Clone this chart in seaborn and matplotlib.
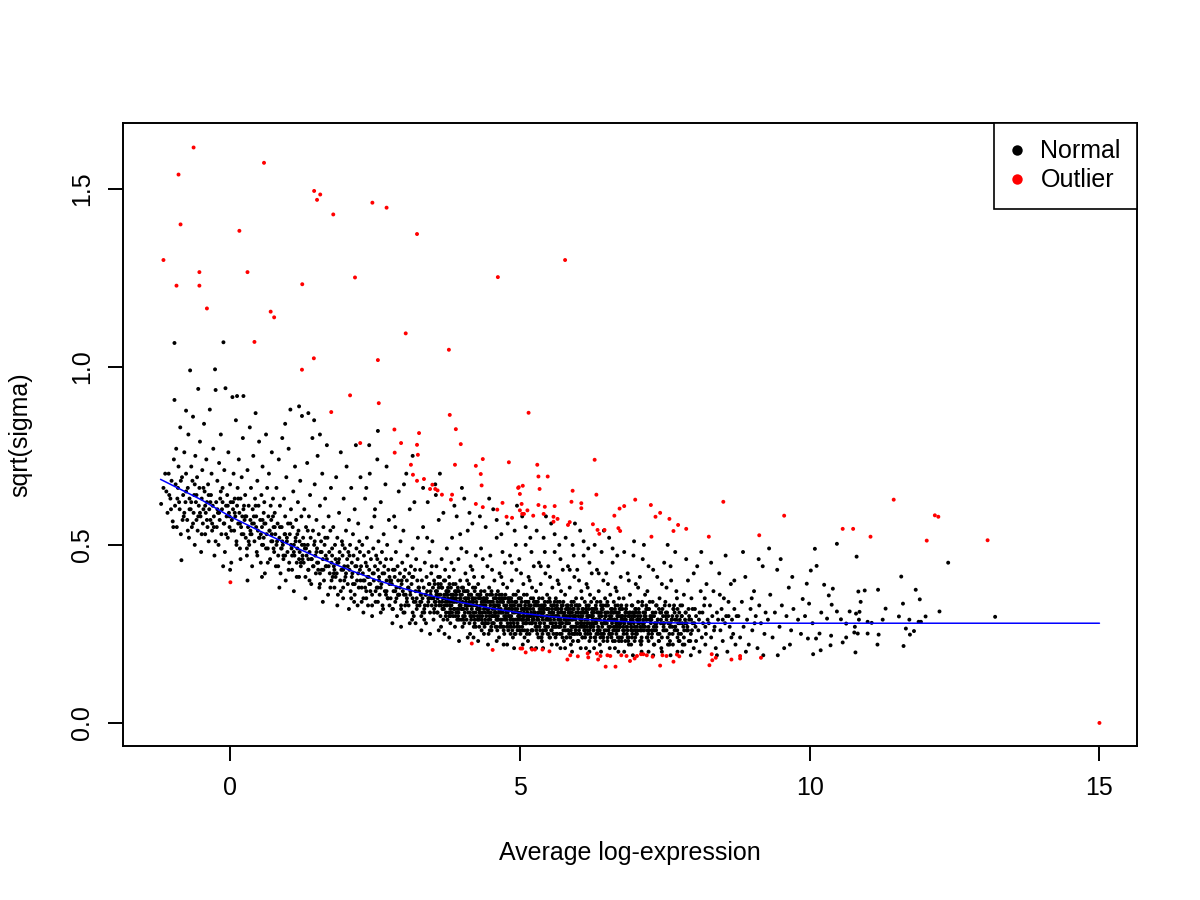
import matplotlib
matplotlib.use("Agg")
import matplotlib.pyplot as plt
from matplotlib.lines import Line2D
import pandas as pd
import seaborn as sns

# Trend line (fitted prior)
trend_x = [-1.2, -0.5, 0, 0.5, 1, 1.5, 2, 2.5, 3, 3.5, 4, 4.5, 5, 5.5, 6, 6.5, 7, 8, 9, 15]
trend_y = [0.684, 0.627, 0.580, 0.540, 0.502, 0.466, 0.433, 0.403, 0.377, 0.356, 0.338,
           0.322, 0.309, 0.299, 0.292, 0.287, 0.283, 0.280, 0.280, 0.280]

# Normal genes (estimated sample of the cloud), x = average log-expression, y = sqrt(sigma)
normal_low = [
    (-1.19, .615), (-1.15, .66), (-1.12, .70), (-1.08, .59), (-1.05, .64), (-1.03, .63), (-1.01, .68),
    (-0.99, .566), (-0.97, .74), (-0.96, .907), (-0.96, 1.067), (-0.95, .61), (-0.93, .77), (-0.92, .55),
    (-0.90, .66), (-0.89, .72), (-0.87, .60), (-0.86, .83), (-0.85, .53), (-0.84, .457), (-0.83, .69),
    (-0.81, .64), (-0.80, .58), (-0.79, .76), (-0.77, .62), (-0.76, .877), (-0.76, .70),
    (-0.74, .57), (-0.73, .66), (-0.72, .81), (-0.71, .52), (-0.70, .63), (-0.69, .99), (-0.68, .60),
    (-0.67, .72), (-0.66, .55), (-0.65, .68), (-0.64, .86), (-0.63, .59), (-0.62, .64), (-0.61, .50),
    (-0.60, .75), (-0.59, .62), (-0.58, .57), (-0.57, .69), (-0.56, .54), (-0.55, .938), (-0.54, .61),
    (-0.53, .66), (-0.52, .79), (-0.51, .58), (-0.50, .48), (-0.49, .63), (-0.48, .71), (-0.47, .56),
    (-0.46, .60), (-0.45, .84), (-0.44, .65), (-0.43, .53), (-0.42, .59), (-0.41, .74), (-0.40, .62),
    (-0.39, .55), (-0.38, .67), (-0.37, .51), (-0.36, .60), (-0.35, .88), (-0.34, .57), (-0.33, .64),
    (-0.32, .70), (-0.31, .54), (-0.30, .61), (-0.29, .77), (-0.28, .58), (-0.27, .47), (-0.26, .993),
    (-0.25, .935),
    (-0.24, .62), (-0.23, .55), (-0.22, .68), (-0.21, .59), (-0.20, .50), (-0.19, .73), (-0.18, .57),
    (-0.17, .63), (-0.16, .81), (-0.15, .53), (-0.14, .60), (-0.13, .66), (-0.115, 1.069), (-0.11, .56),
    (-0.10, .71), (-0.09, .48), (-0.08, .94), (-0.07, .61), (-0.06, .58), (-0.05, .64), (-0.04, .52),
    (-0.03, .76), (-0.02, .59), (-0.01, .55), (0.00, .67), (0.01, .62), (0.02, .45), (0.03, .57),
    (0.04, .915), (0.05, .60), (0.06, .70), (0.07, .54), (0.08, .63), (0.09, .58), (0.10, .85),
    (0.11, .51), (0.12, .918), (0.12, .61), (0.13, .66), (0.14, .56), (0.15, .74), (0.16, .59),
    (0.17, .49), (0.18, .63), (0.19, .55), (0.20, .69), (0.21, .58), (0.22, .80), (0.23, .918),
    (0.23, .53), (0.24, .61), (0.25, .57), (-0.12, .44), (0.00, .43), (0.18, .46),
    (0.26, .64), (0.27, .52), (0.28, .58), (0.29, .47), (0.30, .71), (0.31, .55), (0.32, .61),
    (0.33, .50), (0.34, .83), (0.35, .57), (0.36, .66), (0.37, .53), (0.38, .44), (0.39, .60),
    (0.40, .75), (0.41, .56), (0.42, .51), (0.43, .63), (0.44, .87), (0.45, .58), (0.46, .48),
    (0.47, .68), (0.48, .54), (0.49, .61), (0.50, .79), (0.51, .52), (0.52, .57), (0.53, .45),
    (0.54, .64), (0.55, .55), (0.56, .72), (0.57, .50), (0.58, .59), (0.59, .62), (0.60, .42),
    (0.61, .56), (0.62, .81), (0.63, .53), (0.64, .66), (0.65, .49), (0.66, .58), (0.67, .70),
    (0.68, .54), (0.69, .46), (0.70, .61), (0.71, .57), (0.72, .76), (0.73, .51), (0.74, .63),
    (0.75, .55), (0.30, .40), (0.55, .41),
    (0.76, .48), (0.77, .59), (0.78, .53), (0.79, .44), (0.80, .66), (0.81, .51), (0.82, .56),
    (0.83, .47), (0.84, .74), (0.85, .52), (0.86, .61), (0.87, .42), (0.88, .49), (0.89, .55),
    (0.90, .80), (0.91, .50), (0.92, .46), (0.93, .63), (0.94, .53), (0.95, .58), (0.96, .40),
    (0.97, .69), (0.98, .51), (0.99, .48), (1.00, .56), (1.01, .77), (1.02, .45), (1.03, .53),
    (1.04, .88), (1.05, .60), (1.06, .49), (1.07, .43), (1.08, .55), (1.09, .65), (1.10, .50),
    (1.11, .47), (1.12, .72), (1.13, .52), (1.14, .57), (1.15, .41), (1.16, .49), (1.17, .62),
    (1.18, .54), (1.19, .889), (1.19, .46), (1.20, .51), (1.21, .68), (1.22, .44), (1.23, .58),
    (1.24, .862), (1.24, .50), (1.25, .47), (0.85, .38), (1.10, .37), (0.95, .84),
]

normal_mid = [
    (1.26, .52), (1.27, .45), (1.28, .60), (1.29, .49), (1.30, .41), (1.31, .55), (1.32, .47),
    (1.33, .73), (1.34, .50), (1.35, .43), (1.36, .58), (1.37, .48), (1.38, .64), (1.39, .52),
    (1.40, .39), (1.41, .46), (1.42, .80), (1.43, .54), (1.44, .44), (1.45, .50), (1.46, .67),
    (1.47, .47), (1.48, .42), (1.49, .57), (1.50, .49), (1.51, .75), (1.52, .45), (1.53, .53),
    (1.54, .38), (1.55, .61), (1.56, .48), (1.57, .51), (1.58, .43), (1.59, .70), (1.60, .46),
    (1.61, .55), (1.62, .40), (1.63, .50), (1.64, .63), (1.65, .47), (1.66, .44), (1.67, .78),
    (1.68, .52), (1.69, .36), (1.70, .58), (1.71, .48), (1.72, .42), (1.73, .54), (1.74, .66),
    (1.75, .45), (1.30, .35), (1.60, .34), (1.45, .85), (1.35, .87), (1.55, .81),
    (1.76, .47), (1.77, .41), (1.78, .55), (1.79, .44), (1.80, .38), (1.81, .50), (1.82, .46),
    (1.83, .69), (1.84, .42), (1.85, .52), (1.86, .36), (1.87, .45), (1.88, .59), (1.89, .48),
    (1.90, .40), (1.91, .76), (1.92, .43), (1.93, .51), (1.94, .47), (1.95, .35), (1.96, .63),
    (1.97, .44), (1.98, .49), (1.99, .41), (2.00, .54), (2.01, .72), (2.02, .46), (2.03, .39),
    (2.04, .48), (2.05, .57), (2.06, .43), (2.07, .50), (2.08, .37), (2.09, .66), (2.10, .45),
    (2.11, .42), (2.12, .53), (2.13, .47), (2.14, .34), (2.15, .60), (2.16, .44), (2.17, .78),
    (2.18, .49), (2.19, .40), (2.20, .46), (2.21, .56), (2.22, .38), (2.23, .51), (2.24, .43),
    (2.25, .69), (1.85, .33), (2.05, .32), (2.20, .33),
    (2.26, .44), (2.27, .38), (2.28, .50), (2.29, .42), (2.30, .35), (2.31, .47), (2.32, .40),
    (2.33, .63), (2.34, .45), (2.35, .37), (2.36, .52), (2.37, .41), (2.38, .33), (2.39, .48),
    (2.40, .43), (2.41, .70), (2.42, .39), (2.43, .46), (2.44, .55), (2.45, .36), (2.46, .42),
    (2.47, .49), (2.48, .40), (2.49, .58), (2.50, .44), (2.51, .34), (2.52, .47), (2.53, .38),
    (2.54, .74), (2.55, .43), (2.56, .51), (2.57, .41), (2.58, .36), (2.59, .45), (2.60, .62),
    (2.61, .39), (2.62, .48), (2.63, .42), (2.64, .32), (2.65, .53), (2.66, .44), (2.67, .37),
    (2.68, .67), (2.69, .46), (2.70, .40), (2.71, .50), (2.72, .35), (2.73, .43), (2.74, .57),
    (2.75, .41), (2.30, .31), (2.45, .30), (2.60, .31), (2.35, .66), (2.50, .60), (2.70, .72),
    (2.55, .82), (2.40, .78),
    (2.76, .40), (2.77, .35), (2.78, .46), (2.79, .39), (2.80, .32), (2.81, .43), (2.82, .37),
    (2.83, .58), (2.84, .41), (2.85, .34), (2.86, .48), (2.87, .38), (2.88, .30), (2.89, .44),
    (2.90, .40), (2.91, .65), (2.92, .36), (2.93, .42), (2.94, .51), (2.95, .33), (2.96, .39),
    (2.97, .45), (2.98, .37), (2.99, .54), (3.00, .41), (3.01, .31), (3.02, .43), (3.03, .36),
    (3.04, .70), (3.05, .40), (3.06, .47), (3.07, .38), (3.08, .33), (3.09, .42), (3.10, .60),
    (3.11, .36), (3.12, .44), (3.13, .39), (3.14, .29), (3.15, .49), (3.16, .41), (3.17, .34),
    (3.18, .62), (3.19, .43), (3.20, .37), (3.21, .46), (3.22, .32), (3.23, .40), (3.24, .52),
    (3.25, .38), (2.80, .28), (2.95, .27), (3.10, .28), (3.20, .28), (2.85, .55), (3.00, .67),
    (3.15, .75), (2.90, .36), (3.05, .35), (3.22, .35),
    (3.26, .37), (3.27, .33), (3.28, .43), (3.29, .36), (3.30, .30), (3.31, .40), (3.32, .35),
    (3.33, .55), (3.34, .38), (3.35, .32), (3.36, .45), (3.37, .36), (3.38, .28), (3.39, .41),
    (3.40, .37), (3.41, .62), (3.42, .34), (3.43, .39), (3.44, .48), (3.45, .31), (3.46, .36),
    (3.47, .42), (3.48, .35), (3.49, .51), (3.50, .38), (3.51, .29), (3.52, .40), (3.53, .34),
    (3.54, .67), (3.55, .37), (3.56, .44), (3.57, .36), (3.58, .31), (3.59, .39), (3.60, .57),
    (3.61, .33), (3.62, .41), (3.63, .36), (3.64, .27), (3.65, .46), (3.66, .38), (3.67, .32),
    (3.68, .59), (3.69, .40), (3.70, .35), (3.71, .43), (3.72, .30), (3.73, .37), (3.74, .49),
    (3.75, .36), (3.30, .26), (3.45, .25), (3.60, .26), (3.70, .25), (3.28, .34), (3.36, .33),
    (3.44, .35), (3.52, .32), (3.58, .35), (3.66, .34), (3.74, .33), (3.40, .52), (3.55, .64),
    (3.62, .70), (3.33, .66), (3.48, .44),
]

normal_core = [
    (3.76, .35), (3.77, .31), (3.78, .41), (3.79, .34), (3.80, .28), (3.81, .38), (3.82, .33),
    (3.83, .52), (3.84, .36), (3.85, .30), (3.86, .43), (3.87, .34), (3.88, .27), (3.89, .39),
    (3.90, .35), (3.91, .58), (3.92, .32), (3.93, .37), (3.94, .46), (3.95, .29), (3.96, .34),
    (3.97, .40), (3.98, .33), (3.99, .49), (4.00, .36), (4.01, .27), (4.02, .38), (4.03, .32),
    (4.04, .63), (4.05, .35), (4.06, .42), (4.07, .34), (4.08, .29), (4.09, .37), (4.10, .54),
    (4.11, .31), (4.12, .39), (4.13, .34), (4.14, .25), (4.15, .44), (4.16, .36), (4.17, .30),
    (4.18, .56), (4.19, .38), (4.20, .33), (4.21, .41), (4.22, .28), (4.23, .35), (4.24, .47),
    (4.25, .34), (3.78, .24), (3.95, .23), (4.10, .24), (4.20, .24), (3.80, .32), (3.85, .36),
    (3.90, .31), (3.95, .37), (4.00, .32), (4.05, .30), (4.10, .35), (4.15, .33), (4.20, .31),
    (4.22, .37), (3.87, .61), (4.00, .66), (4.13, .59), (3.97, .53), (4.08, .48), (3.82, .45),
    (4.18, .43),
    (4.26, .33), (4.27, .30), (4.28, .39), (4.29, .32), (4.30, .27), (4.31, .36), (4.32, .31),
    (4.33, .49), (4.34, .34), (4.35, .28), (4.36, .41), (4.37, .33), (4.38, .25), (4.39, .37),
    (4.40, .34), (4.41, .55), (4.42, .30), (4.43, .35), (4.44, .44), (4.45, .28), (4.46, .32),
    (4.47, .38), (4.48, .31), (4.49, .47), (4.50, .34), (4.51, .26), (4.52, .36), (4.53, .30),
    (4.54, .60), (4.55, .33), (4.56, .40), (4.57, .32), (4.58, .27), (4.59, .35), (4.60, .52),
    (4.61, .29), (4.62, .37), (4.63, .32), (4.64, .24), (4.65, .42), (4.66, .34), (4.67, .29),
    (4.68, .53), (4.69, .36), (4.70, .31), (4.71, .39), (4.72, .27), (4.73, .33), (4.74, .45),
    (4.75, .32), (4.28, .23), (4.45, .22), (4.60, .23), (4.72, .22), (4.30, .31), (4.34, .29),
    (4.38, .32), (4.42, .35), (4.46, .29), (4.50, .31), (4.54, .28), (4.58, .33), (4.62, .30),
    (4.66, .31), (4.70, .29), (4.74, .35), (4.32, .35), (4.40, .28), (4.48, .36), (4.56, .30),
    (4.64, .35), (4.31, .58), (4.47, .63), (4.60, .57), (4.70, .48), (4.36, .46), (4.52, .43),
    (4.68, .41),
    (4.76, .32), (4.77, .29), (4.78, .38), (4.79, .31), (4.80, .26), (4.81, .35), (4.82, .30),
    (4.83, .47), (4.84, .33), (4.85, .27), (4.86, .40), (4.87, .32), (4.88, .24), (4.89, .36),
    (4.90, .33), (4.91, .54), (4.92, .29), (4.93, .34), (4.94, .43), (4.95, .27), (4.96, .31),
    (4.97, .37), (4.98, .30), (4.99, .46), (5.00, .33), (5.01, .25), (5.02, .35), (5.03, .29),
    (5.04, .58), (5.05, .32), (5.06, .39), (5.07, .31), (5.08, .26), (5.09, .34), (5.10, .50),
    (5.11, .28), (5.12, .36), (5.13, .31), (5.14, .23), (5.15, .41), (5.16, .33), (5.17, .28),
    (5.18, .52), (5.19, .35), (5.20, .30), (5.21, .38), (5.22, .26), (5.23, .32), (5.24, .44),
    (5.25, .31), (4.78, .22), (4.90, .21), (5.05, .22), (5.20, .21), (4.80, .30), (4.84, .28),
    (4.88, .31), (4.92, .34), (4.96, .28), (5.00, .30), (5.04, .27), (5.08, .32), (5.12, .29),
    (5.16, .30), (5.20, .28), (5.24, .34), (4.82, .34), (4.90, .27), (4.98, .35), (5.06, .29),
    (5.14, .34), (5.22, .29), (4.79, .56), (4.95, .61), (5.10, .55), (5.20, .48), (4.86, .45),
    (5.02, .42), (5.17, .40), (4.93, .50),
    (5.26, .31), (5.27, .28), (5.28, .37), (5.29, .30), (5.30, .25), (5.31, .34), (5.32, .29),
    (5.33, .45), (5.34, .32), (5.35, .26), (5.36, .39), (5.37, .31), (5.38, .23), (5.39, .35),
    (5.40, .32), (5.41, .52), (5.42, .28), (5.43, .33), (5.44, .42), (5.45, .26), (5.46, .30),
    (5.47, .36), (5.48, .29), (5.49, .44), (5.50, .32), (5.51, .24), (5.52, .34), (5.53, .28),
    (5.54, .56), (5.55, .31), (5.56, .38), (5.57, .30), (5.58, .25), (5.59, .33), (5.60, .48),
    (5.61, .27), (5.62, .35), (5.63, .30), (5.64, .22), (5.65, .40), (5.66, .32), (5.67, .27),
    (5.68, .50), (5.69, .34), (5.70, .29), (5.71, .37), (5.72, .25), (5.73, .31), (5.74, .43),
    (5.75, .30), (5.28, .21), (5.40, .21), (5.55, .22), (5.70, .21), (5.30, .29), (5.34, .27),
    (5.38, .30), (5.42, .33), (5.46, .27), (5.50, .29), (5.54, .26), (5.58, .31), (5.62, .28),
    (5.66, .29), (5.70, .27), (5.74, .33), (5.32, .33), (5.40, .26), (5.48, .34), (5.56, .28),
    (5.64, .33), (5.72, .28), (5.29, .54), (5.45, .58), (5.60, .53), (5.70, .46), (5.36, .44),
    (5.52, .41), (5.67, .39), (5.43, .48),
    (5.76, .30), (5.77, .27), (5.78, .36), (5.79, .29), (5.80, .24), (5.81, .33), (5.82, .28),
    (5.83, .44), (5.84, .31), (5.85, .25), (5.86, .38), (5.87, .30), (5.88, .22), (5.89, .34),
    (5.90, .31), (5.91, .50), (5.92, .27), (5.93, .32), (5.94, .41), (5.95, .25), (5.96, .29),
    (5.97, .35), (5.98, .28), (5.99, .43), (6.00, .31), (6.01, .23), (6.02, .33), (6.03, .27),
    (6.04, .54), (6.05, .30), (6.06, .37), (6.07, .29), (6.08, .24), (6.09, .32), (6.10, .47),
    (6.11, .26), (6.12, .34), (6.13, .29), (6.14, .21), (6.15, .39), (6.16, .31), (6.17, .26),
    (6.18, .49), (6.19, .33), (6.20, .28), (6.21, .36), (6.22, .24), (6.23, .30), (6.24, .42),
    (6.25, .29), (5.78, .21), (5.90, .20), (6.05, .21), (6.20, .20), (5.80, .28), (5.84, .26),
    (5.88, .29), (5.92, .32), (5.96, .26), (6.00, .28), (6.04, .25), (6.08, .30), (6.12, .27),
    (6.16, .28), (6.20, .26), (6.24, .32), (5.82, .32), (5.90, .25), (5.98, .33), (6.06, .27),
    (6.14, .32), (6.22, .27), (5.79, .52), (5.95, .56), (6.10, .51), (6.20, .45), (5.86, .43),
    (6.02, .40), (6.17, .38), (5.93, .47),
    (6.26, .30), (6.27, .27), (6.28, .35), (6.29, .29), (6.30, .24), (6.31, .33), (6.32, .28),
    (6.33, .43), (6.34, .31), (6.35, .25), (6.36, .37), (6.37, .30), (6.38, .22), (6.39, .34),
    (6.40, .31), (6.41, .48), (6.42, .27), (6.43, .32), (6.44, .40), (6.45, .25), (6.46, .29),
    (6.47, .35), (6.48, .28), (6.49, .42), (6.50, .31), (6.51, .23), (6.52, .33), (6.53, .27),
    (6.54, .52), (6.55, .30), (6.56, .36), (6.57, .29), (6.58, .24), (6.59, .32), (6.60, .45),
    (6.61, .26), (6.62, .34), (6.63, .29), (6.64, .21), (6.65, .38), (6.66, .31), (6.67, .26),
    (6.68, .47), (6.69, .33), (6.70, .28), (6.71, .35), (6.72, .24), (6.73, .30), (6.74, .41),
    (6.75, .29), (6.28, .21), (6.40, .20), (6.55, .21), (6.70, .20), (6.30, .28), (6.34, .26),
    (6.38, .29), (6.42, .32), (6.46, .26), (6.50, .28), (6.54, .25), (6.58, .30), (6.62, .27),
    (6.66, .28), (6.70, .26), (6.74, .32), (6.32, .32), (6.40, .25), (6.48, .33), (6.56, .27),
    (6.64, .32), (6.72, .27), (6.29, .50), (6.45, .54), (6.60, .49), (6.36, .42), (6.52, .39),
    (6.67, .37),
]

# Extra points filling the densest part of the cloud, near the trend
normal_dense = [
    (3.51, .35), (3.53, .39), (3.55, .33), (3.57, .37), (3.59, .41), (3.61, .34), (3.63, .30),
    (3.65, .38), (3.67, .35), (3.69, .32), (3.71, .40), (3.73, .36), (3.75, .29), (3.77, .37),
    (3.79, .33), (3.81, .36), (3.83, .31), (3.85, .39), (3.87, .35), (3.89, .30), (3.91, .34),
    (3.93, .38), (3.95, .32), (3.97, .36), (3.99, .29), (4.01, .34), (4.03, .37), (4.05, .31),
    (4.07, .35), (4.09, .40), (4.11, .33), (4.13, .28), (4.15, .36), (4.17, .32), (4.19, .35),
    (4.21, .30), (4.23, .38), (4.25, .33), (4.27, .29), (4.29, .35), (4.31, .32), (4.33, .37),
    (4.35, .30), (4.37, .34), (4.39, .27), (4.41, .33), (4.43, .36), (4.45, .31), (4.47, .34),
    (4.49, .29), (4.51, .37), (4.53, .32), (4.55, .28), (4.57, .35), (4.59, .31), (4.61, .34),
    (4.63, .29), (4.65, .36), (4.67, .32), (4.69, .27), (4.71, .34), (4.73, .30), (4.75, .36),
    (4.77, .33), (4.79, .28), (4.81, .32), (4.83, .35), (4.85, .30), (4.87, .26), (4.89, .33),
    (4.91, .31), (4.93, .36), (4.95, .29), (4.97, .33), (4.99, .27), (5.01, .31), (5.03, .34),
    (5.05, .30), (5.07, .36), (5.09, .28), (5.11, .32), (5.13, .26), (5.15, .34), (5.17, .30),
    (5.19, .33), (5.21, .28), (5.23, .35), (5.25, .31), (5.27, .27), (5.29, .33), (5.31, .30),
    (5.33, .35), (5.35, .28), (5.37, .32), (5.39, .25), (5.41, .31), (5.43, .34), (5.45, .29),
    (5.47, .32), (5.49, .27), (5.51, .35), (5.53, .30), (5.55, .26), (5.57, .33), (5.59, .29),
    (5.61, .32), (5.63, .27), (5.65, .34), (5.67, .30), (5.69, .25), (5.71, .32), (5.73, .28),
    (5.75, .34), (5.77, .31), (5.79, .26), (5.81, .30), (5.83, .33), (5.85, .28), (5.87, .24),
    (5.89, .31), (5.91, .29), (5.93, .34), (5.95, .27), (5.97, .31), (5.99, .25), (6.01, .30),
    (6.03, .33), (6.05, .28), (6.07, .35), (6.09, .27), (6.11, .31), (6.13, .25), (6.15, .33),
    (6.17, .29), (6.19, .32), (6.21, .27), (6.23, .34), (6.25, .30), (6.27, .26), (6.29, .32),
    (6.31, .29), (6.33, .34), (6.35, .27), (6.37, .31), (6.39, .24), (6.41, .30), (6.43, .33),
    (6.45, .28), (6.47, .31), (6.49, .26), (6.51, .34), (6.53, .29), (6.55, .25), (6.57, .32),
    (6.59, .28), (6.61, .31), (6.63, .26), (6.65, .33), (6.67, .29), (6.69, .24), (6.71, .31),
    (6.73, .27), (6.75, .33), (6.77, .30), (6.79, .25), (6.81, .29), (6.83, .32), (6.85, .27),
    (6.87, .23), (6.89, .30), (6.91, .28), (6.93, .33), (6.95, .26), (6.97, .30), (6.99, .24),
    (7.02, .29), (7.05, .32), (7.08, .27), (7.11, .34), (7.14, .26), (7.17, .30), (7.20, .24),
    (7.23, .32), (7.26, .28), (7.29, .31), (7.32, .26), (7.35, .33), (7.38, .29), (7.41, .25),
    (7.44, .31), (7.47, .28), (7.50, .33), (7.53, .26), (7.56, .30), (7.59, .23), (7.62, .29),
    (7.65, .32), (7.68, .27), (7.71, .30), (7.74, .25), (7.77, .33), (7.80, .28), (7.83, .24),
    (7.86, .31), (7.89, .27), (7.92, .30), (7.95, .25), (7.98, .32), (8.01, .28), (8.04, .23),
    (3.52, .31), (3.56, .36), (3.60, .38), (3.64, .33), (3.68, .29), (3.72, .34), (3.76, .38),
    (3.80, .30), (3.84, .34), (3.88, .37), (3.92, .29), (3.96, .33), (4.00, .38), (4.04, .28),
    (4.08, .33), (4.12, .36), (4.16, .29), (4.20, .34), (4.24, .27), (4.28, .32), (4.32, .36),
    (4.36, .28), (4.40, .31), (4.44, .34), (4.48, .26), (4.52, .30), (4.56, .33), (4.60, .27),
    (4.64, .31), (4.68, .35), (4.72, .26), (4.76, .30), (4.80, .34), (4.84, .25), (4.88, .29),
    (4.92, .32), (4.96, .26), (5.00, .35), (5.04, .29), (5.08, .24), (5.12, .30), (5.16, .33),
    (5.20, .26), (5.24, .29), (5.28, .34), (5.32, .24), (5.36, .30), (5.40, .33), (5.44, .26),
    (5.48, .30), (5.52, .24), (5.56, .31), (5.60, .34), (5.64, .25), (5.68, .29), (5.72, .32),
    (5.76, .23), (5.80, .28), (5.84, .32), (5.88, .26), (5.92, .30), (5.96, .33), (6.00, .23),
    (6.04, .29), (6.08, .32), (6.12, .26), (6.16, .30), (6.20, .23), (6.24, .28), (6.28, .31),
    (6.32, .25), (6.36, .29), (6.40, .33), (6.44, .23), (6.48, .28), (6.52, .31), (6.56, .25),
    (6.60, .29), (6.64, .23), (6.68, .27), (6.72, .32), (6.76, .24), (6.80, .28), (6.84, .31),
    (6.88, .22), (6.92, .27), (6.96, .31), (7.00, .25), (7.04, .28), (7.09, .22), (7.13, .29),
    (7.18, .33), (7.22, .25), (7.27, .29), (7.31, .22), (7.36, .28), (7.40, .32), (7.45, .24),
    (7.49, .28), (7.54, .31), (7.58, .22), (7.63, .27), (7.67, .31), (7.72, .24), (7.76, .28),
    (7.81, .22), (7.85, .29), (7.90, .26),
    (-1.10, .65), (-1.02, .60), (-0.94, .67), (-0.88, .62), (-0.82, .57), (-0.76, .65), (-0.70, .60),
    (-0.64, .56), (-0.58, .64), (-0.52, .59), (-0.46, .66), (-0.40, .57), (-0.34, .62), (-0.28, .55),
    (-0.22, .60), (-0.16, .65), (-0.10, .56), (-0.04, .61), (0.02, .54), (0.08, .59), (0.14, .63),
    (0.20, .53), (0.26, .58), (0.32, .51), (0.38, .56), (0.44, .61), (0.50, .52), (0.56, .57),
    (0.62, .49), (0.68, .54), (0.74, .58), (0.80, .50), (0.86, .55), (0.92, .47), (0.98, .52),
    (1.04, .56), (1.10, .48), (1.16, .53), (1.22, .45), (1.28, .50), (1.34, .54), (1.40, .46),
    (1.46, .51), (1.52, .43), (1.58, .48), (1.64, .52), (1.70, .44), (1.76, .49), (1.82, .41),
    (1.88, .46), (1.94, .50), (2.00, .42), (2.06, .47), (2.12, .39), (2.18, .44), (2.24, .48),
    (2.30, .40), (2.36, .44), (2.42, .37), (2.48, .42), (2.54, .46), (2.60, .38), (2.66, .42),
    (2.72, .35), (2.78, .40), (2.84, .43), (2.90, .36), (2.96, .40), (3.02, .33), (3.08, .38),
    (3.14, .41), (3.20, .34), (3.26, .38), (3.32, .31), (3.38, .36), (3.44, .39), (3.48, .33),
    (-1.06, .70), (-0.98, .55), (-0.91, .63), (-0.85, .68), (-0.79, .59), (-0.73, .54), (-0.67, .62),
    (-0.61, .67), (-0.55, .58), (-0.49, .53), (-0.43, .61), (-0.37, .64), (-0.31, .56), (-0.25, .51),
    (-0.19, .59), (-0.13, .62), (-0.07, .53), (-0.01, .58), (0.05, .62), (0.11, .50), (0.17, .56),
    (0.23, .60), (0.29, .49), (0.35, .54), (0.41, .58), (0.47, .47), (0.53, .53), (0.59, .56),
    (0.65, .45), (0.71, .51), (0.77, .55), (0.83, .44), (0.89, .49), (0.95, .53), (1.01, .43),
    (1.07, .47), (1.13, .51), (1.19, .41), (1.25, .46), (1.31, .49), (1.37, .40), (1.43, .44),
    (1.49, .48), (1.55, .39), (1.61, .43), (1.67, .46), (1.73, .38), (1.79, .42), (1.85, .45),
    (1.91, .37), (1.97, .40), (2.03, .44), (2.09, .35), (2.15, .39), (2.21, .42), (2.27, .34),
    (2.33, .38), (2.39, .41), (2.45, .33), (2.51, .37), (2.57, .40), (2.63, .33), (2.69, .36),
    (2.75, .39), (2.81, .32), (2.87, .35), (2.93, .38), (2.99, .31), (3.05, .34), (3.11, .37),
    (3.17, .30), (3.23, .33), (3.29, .36), (3.35, .29), (3.41, .33), (3.46, .37),
]

# Third pass over the solid core and the band just under the trend
normal_solid = [
    (3.545, .34), (3.575, .31), (3.605, .36), (3.635, .39), (3.665, .32), (3.695, .36), (3.725, .31),
    (3.755, .34), (3.785, .39), (3.815, .31), (3.845, .35), (3.875, .32), (3.905, .37), (3.935, .30),
    (3.965, .35), (3.995, .32), (4.025, .29), (4.055, .37), (4.085, .32), (4.115, .35), (4.145, .30),
    (4.175, .34), (4.205, .27), (4.235, .31), (4.265, .36), (4.295, .29), (4.325, .33), (4.355, .31),
    (4.385, .35), (4.415, .28), (4.445, .32), (4.475, .30), (4.505, .27), (4.535, .34), (4.565, .31),
    (4.595, .29), (4.625, .33), (4.655, .27), (4.685, .31), (4.715, .35), (4.745, .29), (4.775, .27),
    (4.805, .32), (4.835, .29), (4.865, .34), (4.895, .28), (4.925, .25), (4.955, .32), (4.985, .29),
    (5.015, .33), (5.045, .26), (5.075, .30), (5.105, .28), (5.135, .32), (5.165, .25), (5.195, .31),
    (5.225, .29), (5.255, .33), (5.285, .26), (5.315, .31), (5.345, .28), (5.375, .24), (5.405, .30),
    (5.435, .27), (5.465, .32), (5.495, .25), (5.525, .29), (5.555, .32), (5.585, .27), (5.615, .24),
    (5.645, .30), (5.675, .27), (5.705, .31), (5.735, .24), (5.765, .29), (5.795, .32), (5.825, .26),
    (5.855, .30), (5.885, .27), (5.915, .23), (5.945, .30), (5.975, .27), (6.005, .32), (6.035, .25),
    (6.065, .28), (6.095, .31), (6.125, .24), (6.155, .27), (6.185, .30), (6.215, .25), (6.245, .31),
    (6.275, .28), (6.305, .23), (6.335, .29), (6.365, .26), (6.395, .31), (6.425, .25), (6.455, .28),
    (6.485, .30), (6.515, .24), (6.545, .27), (6.575, .31), (6.605, .23), (6.635, .29), (6.665, .25),
    (6.695, .30), (6.725, .28), (6.755, .23), (6.785, .27), (6.815, .30), (6.845, .25), (6.875, .28),
    (6.905, .31), (6.935, .24), (6.965, .28), (6.995, .26), (7.035, .30), (7.075, .23), (7.115, .28),
    (7.155, .31), (7.195, .26), (7.235, .29), (7.275, .24), (7.315, .30), (7.355, .27), (7.395, .23),
    (7.435, .29), (7.475, .26), (7.515, .30), (7.555, .22), (7.595, .28), (7.635, .25), (7.675, .29),
    (7.715, .26), (7.755, .23), (7.795, .30), (7.835, .26), (7.875, .28), (7.915, .23), (7.955, .29),
    (0.45, .55), (0.58, .52), (0.72, .53), (0.90, .51), (1.05, .50), (1.20, .48), (1.35, .46),
    (1.50, .45), (1.65, .44), (1.80, .43), (1.95, .43), (2.10, .41), (2.25, .40), (2.40, .39),
    (2.55, .38), (2.70, .37), (2.85, .37), (3.00, .36), (3.15, .35), (3.30, .34), (3.42, .35),
    (2.15, .36), (2.35, .35), (2.55, .34), (2.75, .33), (2.95, .32), (3.15, .31), (3.35, .31),
    (1.95, .38), (1.75, .40), (1.55, .42), (1.35, .43), (1.15, .45), (0.95, .47), (0.75, .49),
    (0.55, .50), (0.35, .53),
]

# Fourth pass, only inside the darkest block (x about 4.3-7.3)
normal_fill = [
    (4.31, .30), (4.34, .26), (4.37, .35), (4.40, .29), (4.43, .32), (4.46, .25), (4.49, .33),
    (4.52, .28), (4.55, .35), (4.58, .30), (4.61, .26), (4.64, .33), (4.67, .28), (4.70, .34),
    (4.73, .25), (4.76, .31), (4.79, .35), (4.82, .27), (4.85, .32), (4.88, .29), (4.91, .25),
    (4.94, .34), (4.97, .30), (5.00, .26), (5.03, .32), (5.06, .28), (5.09, .33), (5.12, .25),
    (5.15, .29), (5.18, .32), (5.21, .26), (5.24, .30), (5.27, .34), (5.30, .27), (5.33, .31),
    (5.36, .24), (5.39, .29), (5.42, .32), (5.45, .27), (5.48, .25), (5.51, .31), (5.54, .33),
    (5.57, .27), (5.60, .30), (5.63, .25), (5.66, .31), (5.69, .28), (5.72, .33), (5.75, .26),
    (5.78, .30), (5.81, .24), (5.84, .29), (5.87, .32), (5.90, .27), (5.93, .25), (5.96, .30),
    (5.99, .33), (6.02, .26), (6.05, .31), (6.08, .24), (6.11, .28), (6.14, .31), (6.17, .25),
    (6.20, .30), (6.23, .27), (6.26, .32), (6.29, .24), (6.32, .29), (6.35, .31), (6.38, .26),
    (6.41, .28), (6.44, .24), (6.47, .30), (6.50, .33), (6.53, .26), (6.56, .29), (6.59, .25),
    (6.62, .31), (6.65, .27), (6.68, .30), (6.71, .23), (6.74, .28), (6.77, .32), (6.80, .26),
    (6.83, .29), (6.86, .24), (6.89, .31), (6.92, .26), (6.95, .29), (6.98, .23), (7.01, .31),
    (7.04, .26), (7.07, .29), (7.10, .24), (7.13, .31), (7.16, .27), (7.19, .29), (7.22, .23),
    (7.25, .30), (7.28, .26),
    (3.70, .33), (3.74, .37), (3.78, .30), (3.82, .35), (3.86, .32), (3.90, .36), (3.94, .31),
    (3.98, .35), (4.02, .30), (4.06, .33), (4.10, .37), (4.14, .31), (4.18, .35), (4.22, .29),
    (4.26, .32), (4.29, .36),
    (4.33, .33), (4.59, .36), (4.85, .35), (5.11, .34), (5.37, .33), (5.63, .32), (5.89, .33),
    (6.15, .32), (6.41, .32), (6.67, .31), (6.93, .30),
]

normal_high = [
    (6.76, .30), (6.78, .26), (6.79, .35), (6.80, .28), (6.82, .23), (6.83, .32), (6.84, .27),
    (6.86, .42), (6.87, .30), (6.88, .24), (6.90, .36), (6.91, .29), (6.92, .22), (6.94, .33),
    (6.95, .31), (6.96, .47), (6.98, .27), (6.99, .32), (7.00, .39), (7.02, .25), (7.03, .29),
    (7.04, .34), (7.06, .28), (7.07, .41), (7.08, .30), (7.10, .23), (7.11, .33), (7.12, .27),
    (7.14, .50), (7.15, .30), (7.16, .36), (7.18, .29), (7.19, .24), (7.20, .32), (7.22, .44),
    (7.23, .26), (7.24, .34), (7.25, .29), (6.80, .20), (6.95, .19), (7.10, .20), (7.22, .20),
    (6.78, .29), (6.82, .31), (6.86, .26), (6.90, .28), (6.94, .25), (6.98, .30), (7.02, .27),
    (7.06, .31), (7.10, .26), (7.14, .28), (7.18, .32), (7.22, .27), (6.84, .33), (6.92, .27),
    (7.00, .32), (7.08, .26), (7.16, .31), (6.80, .48), (6.97, .51), (7.12, .46), (6.88, .40),
    (7.04, .38), (7.20, .37),
    (7.26, .29), (7.28, .25), (7.29, .34), (7.31, .27), (7.32, .22), (7.34, .31), (7.35, .26),
    (7.37, .41), (7.38, .29), (7.40, .23), (7.41, .35), (7.43, .28), (7.44, .21), (7.46, .32),
    (7.47, .30), (7.49, .45), (7.50, .26), (7.52, .31), (7.53, .38), (7.55, .24), (7.56, .28),
    (7.58, .33), (7.59, .27), (7.61, .40), (7.62, .29), (7.64, .22), (7.65, .32), (7.67, .26),
    (7.68, .48), (7.70, .29), (7.71, .35), (7.73, .28), (7.74, .23), (7.75, .31), (7.30, .19),
    (7.45, .20), (7.60, .19), (7.72, .20), (7.28, .30), (7.33, .28), (7.38, .25), (7.42, .31),
    (7.48, .27), (7.53, .29), (7.58, .25), (7.63, .30), (7.68, .27), (7.72, .32), (7.36, .33),
    (7.51, .34), (7.66, .33), (7.30, .43), (7.45, .39), (7.60, .44), (7.70, .37), (7.55, .50),
    (7.76, .29), (7.78, .25), (7.80, .33), (7.82, .27), (7.84, .22), (7.86, .31), (7.88, .26),
    (7.90, .40), (7.92, .29), (7.94, .23), (7.96, .35), (7.98, .28), (8.00, .21), (8.02, .32),
    (8.04, .30), (8.06, .44), (8.08, .26), (8.10, .31), (8.12, .37), (8.14, .24), (8.16, .28),
    (8.18, .33), (8.20, .27), (8.22, .39), (8.24, .29), (7.80, .20), (7.95, .19), (8.10, .20),
    (8.20, .22), (7.79, .30), (7.85, .28), (7.91, .32), (7.97, .26), (8.03, .27), (8.09, .29),
    (8.15, .31), (8.21, .25), (7.87, .46), (8.00, .42), (8.13, .48), (7.83, .36), (8.19, .35),
    (8.26, .28), (8.28, .33), (8.30, .24), (8.32, .30), (8.34, .37), (8.36, .27), (8.38, .21),
    (8.40, .31), (8.42, .29), (8.44, .42), (8.46, .26), (8.48, .32), (8.50, .23), (8.52, .35),
    (8.54, .28), (8.56, .30), (8.58, .20), (8.60, .34), (8.62, .27), (8.64, .39), (8.66, .29),
    (8.68, .25), (8.70, .32), (8.72, .22), (8.74, .30), (8.30, .45), (8.45, .36), (8.55, .47),
    (8.70, .40), (8.35, .26), (8.50, .29), (8.65, .24), (8.40, .19), (8.60, .30),
    (8.77, .30), (8.80, .24), (8.83, .34), (8.86, .27), (8.89, .41), (8.92, .29), (8.95, .22),
    (8.98, .32), (9.01, .26), (9.04, .37), (9.07, .30), (9.10, .21), (9.13, .33), (9.16, .28),
    (9.19, .44), (9.22, .25), (9.24, .31), (8.85, .48), (9.00, .35), (9.12, .46), (8.90, .20),
    (9.05, .28), (9.20, .19),
    (9.28, .29), (9.32, .36), (9.36, .24), (9.40, .31), (9.44, .43), (9.48, .27), (9.52, .33),
    (9.56, .21), (9.60, .30), (9.64, .38), (9.68, .26), (9.72, .32), (9.30, .49), (9.50, .46),
    (9.66, .22), (9.45, .19), (9.70, .41),
    (9.80, .29), (9.85, .25), (9.88, .348), (9.95, .391), (9.99, .335), (9.97, .237), (10.02, .428),
    (10.06, .193), (10.09, .489), (10.11, .237), (10.12, .441), (10.17, .251), (10.19, .204),
    (10.25, .388), (9.92, .30), (10.05, .28), (10.20, .31),
    (10.30, .293), (10.33, .358), (10.36, .218), (10.37, .245), (10.38, .332), (10.40, .377),
    (10.47, .503), (10.47, .313), (10.54, .291), (10.57, .226), (10.63, .279), (10.63, .24),
    (10.69, .313), (10.77, .254), (10.78, .27), (10.79, .198), (10.80, .307), (10.81, .467),
    (10.83, .251), (10.84, .369), (10.85, .29), (10.86, .312), (10.88, .34), (10.95, .372),
    (11.00, .284), (11.00, .251), (11.07, .281), (11.17, .22), (11.18, .374), (11.19, .248),
    (11.26, .29), (11.31, .321), (11.54, .299), (11.58, .411), (11.61, .335), (11.62, .216),
    (11.66, .265), (11.72, .29), (11.73, .248), (11.80, .258), (11.83, .374), (11.88, .284),
    (11.90, .347), (11.92, .284), (12.00, .299), (12.24, .313), (12.39, .45), (13.20, .298),
]

# Outlier genes (red)
outlier_points = [
    (-0.63, 1.616), (0.585, 1.573), (-0.89, 1.54), (1.45, 1.494), (1.555, 1.484), (1.50, 1.469),
    (2.455, 1.461), (2.70, 1.447), (1.78, 1.428), (-0.855, 1.40), (3.225, 1.373), (0.16, 1.382),
    (-1.15, 1.30), (-0.53, 1.266), (0.30, 1.266), (4.62, 1.252), (2.155, 1.251), (-0.925, 1.228),
    (-0.53, 1.228), (1.245, 1.232), (5.78, 1.30), (-0.40, 1.164), (0.70, 1.155), (0.76, 1.139),
    (0.42, 1.070), (3.03, 1.094), (3.775, 1.048), (1.445, 1.024), (1.24, 0.992), (2.55, 1.019),
    (2.07, 0.920), (2.565, 0.898), (1.745, 0.873), (3.79, 0.865), (5.15, 0.871),
    (2.835, 0.824), (3.895, 0.825), (3.26, 0.814), (2.245, 0.786), (2.95, 0.786), (3.98, 0.783),
    (3.225, 0.781), (2.84, 0.759), (3.24, 0.753), (4.36, 0.741), (4.81, 0.732), (3.88, 0.725),
    (3.12, 0.725), (4.24, 0.722), (3.155, 0.697), (4.325, 0.699), (3.345, 0.685), (3.225, 0.680),
    (3.49, 0.669), (4.34, 0.667), (4.98, 0.662), (3.54, 0.657), (3.45, 0.657), (3.58, 0.653),
    (3.83, 0.641), (3.655, 0.641), (5.0, 0.643), (3.81, 0.627), (4.24, 0.615), (4.36, 0.606),
    (4.70, 0.618), (5.03, 0.615), (4.61, 0.599), (5.0, 0.597), (4.77, 0.579), (4.865, 0.576),
    (5.04, 0.587), (0.005, 0.395),
    (5.30, 0.725), (6.29, 0.739), (5.32, 0.692), (5.48, 0.692), (4.97, 0.660), (5.05, 0.666),
    (5.34, 0.657), (5.91, 0.652), (6.32, 0.641), (5.32, 0.612), (5.43, 0.607), (5.60, 0.609),
    (5.89, 0.621), (6.06, 0.617), (6.06, 0.603), (6.99, 0.627), (8.51, 0.621), (11.45, 0.627),
    (5.07, 0.587), (5.13, 0.597), (5.23, 0.582), (5.41, 0.587), (5.58, 0.579), (5.65, 0.573),
    (5.58, 0.565), (5.83, 0.556), (5.86, 0.564), (6.26, 0.558), (6.34, 0.542), (6.37, 0.531),
    (6.46, 0.542), (6.63, 0.582), (6.72, 0.602), (6.80, 0.609), (6.70, 0.547), (6.73, 0.539),
    (7.26, 0.612), (7.34, 0.579), (7.42, 0.590), (7.58, 0.573), (7.65, 0.539), (7.73, 0.556),
    (7.87, 0.545), (7.27, 0.523), (8.26, 0.523), (9.13, 0.527), (9.56, 0.582), (10.57, 0.545),
    (10.75, 0.545), (11.05, 0.523), (12.16, 0.583), (12.22, 0.579), (12.02, 0.512), (13.07, 0.513),
    (15.0, 0.0),
    (4.17, 0.223), (4.53, 0.205), (5.01, 0.209), (5.04, 0.209), (5.21, 0.206), (5.26, 0.206),
    (5.10, 0.198), (5.39, 0.206), (5.51, 0.201), (5.82, 0.178), (5.87, 0.19), (6.0, 0.187),
    (6.17, 0.195), (6.18, 0.184), (6.33, 0.195), (6.35, 0.178), (6.39, 0.188), (6.48, 0.158),
    (6.51, 0.19), (6.56, 0.188), (6.65, 0.158), (6.75, 0.19), (6.84, 0.188), (6.90, 0.174),
    (6.98, 0.181), (7.02, 0.188), (7.09, 0.193), (7.13, 0.193), (7.19, 0.19), (7.29, 0.186),
    (7.42, 0.161), (7.46, 0.19), (7.53, 0.188), (7.65, 0.172), (7.71, 0.192), (7.75, 0.187),
    (8.27, 0.162), (8.31, 0.193), (8.32, 0.176), (8.38, 0.183), (8.65, 0.178), (8.80, 0.188),
    (8.80, 0.181), (9.16, 0.183),
]

x_ticks = [0, 5, 10, 15]
y_ticks = [0.0, 0.5, 1.0, 1.5]
y_tick_labels = ["0.0", "0.5", "1.0", "1.5"]


def main():
    sns.set_style("ticks")
    plt.rcParams["font.family"] = ["Liberation Sans", "DejaVu Sans"]
    plt.rcParams["font.size"] = 18
    plt.rcParams["text.color"] = "black"
    plt.rcParams["axes.labelcolor"] = "black"

    normal = (normal_low + normal_mid + normal_core + normal_dense + normal_solid
              + normal_fill + normal_high)
    df = pd.DataFrame(normal + outlier_points, columns=["amean", "sqrt_sigma"])
    df["status"] = ["Normal"] * len(normal) + ["Outlier"] * len(outlier_points)
    trend = pd.DataFrame({"amean": trend_x, "sqrt_sigma": trend_y})

    fig = plt.figure(figsize=(12, 9), dpi=100)
    ax = fig.add_axes([123 / 1200, 1 - 746 / 900, 1014 / 1200, 623 / 900])

    sns.scatterplot(data=df, x="amean", y="sqrt_sigma", hue="status",
                    palette={"Normal": "black", "Outlier": "red"},
                    s=8, linewidth=0, marker="o", legend=False, ax=ax)
    sns.lineplot(data=trend, x="amean", y="sqrt_sigma", color="blue",
                 linewidth=1.1, ax=ax)

    ax.set_xlim(-1.848, 15.648)
    ax.set_ylim(-0.0648, 1.6848)
    ax.set_xticks(x_ticks)
    ax.set_yticks(y_ticks)
    ax.set_yticklabels(y_tick_labels, rotation=90, va="center")
    ax.tick_params(axis="both", direction="out", length=10.8, width=1.4,
                   labelsize=18, color="black", labelcolor="black")
    ax.tick_params(axis="x", pad=11)
    ax.tick_params(axis="y", pad=10)
    for side in ["top", "right", "bottom", "left"]:
        ax.spines[side].set_visible(True)
        ax.spines[side].set_color("black")
        ax.spines[side].set_linewidth(1.4)

    ax.set_xlabel("Average log-expression", fontsize=18)
    ax.set_ylabel("sqrt(sigma)", fontsize=18)
    ax.xaxis.set_label_coords(0.5, -0.152)
    ax.yaxis.label.set_va("center")
    ax.yaxis.set_label_coords(-0.1016, 0.5)

    handles = [
        Line2D([], [], linestyle="none", marker="o", markersize=7.5,
               markerfacecolor="black", markeredgewidth=0, label="Normal"),
        Line2D([], [], linestyle="none", marker="o", markersize=7.5,
               markerfacecolor="red", markeredgewidth=0, label="Outlier"),
    ]
    leg = ax.legend(handles=handles, loc="upper right", borderaxespad=0,
                    fancybox=False, framealpha=1, edgecolor="black",
                    fontsize=18, handlelength=0.5, handletextpad=0.7,
                    borderpad=0.65, labelspacing=0.2)
    leg.get_frame().set_linewidth(1.2)

    fig.savefig("out.png", dpi=100)
    plt.close(fig)


if __name__ == "__main__":
    main()
